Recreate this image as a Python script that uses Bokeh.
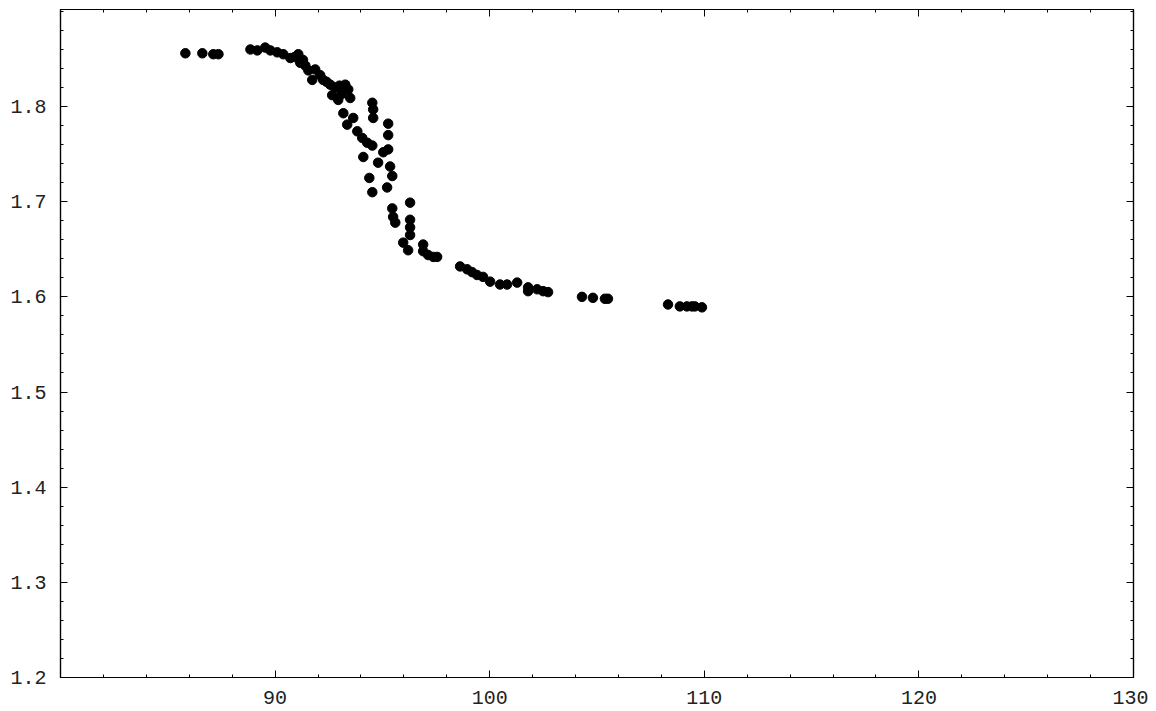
from bokeh.plotting import figure
from bokeh.models import Range1d, FixedTicker, LinearAxis
from bokeh.embed import file_html
from bokeh.resources import INLINE

# data
x_vals = [85.82, 86.61, 87.12, 87.36,
          88.85, 89.17, 89.54, 89.78, 90.10, 90.38, 90.71, 90.90, 91.08, 91.17, 91.30,
          91.41, 91.55, 91.73, 91.87, 92.10, 92.24, 92.40, 92.57, 92.80, 92.66, 92.94,
          93.00, 93.27, 93.41, 93.50, 93.10,
          93.18, 93.36, 93.64, 93.83, 94.06, 94.29, 94.53, 94.11, 94.53, 94.57, 94.57,
          95.04, 94.80, 95.27, 95.27, 95.27, 95.36, 95.46, 95.22, 94.39, 94.53,
          96.29, 95.46, 95.50, 95.60, 96.29, 96.29, 96.29, 95.97, 96.20, 96.90, 96.90,
          97.13, 97.37, 97.55,
          98.62, 98.95, 99.18, 99.41, 99.69, 100.02, 100.48, 100.81, 101.28, 101.79,
          101.79, 102.21, 102.49, 102.72, 104.30, 104.81, 105.37, 105.51,
          108.31, 108.86, 109.19, 109.42, 109.56, 109.89]
y_vals = [1.856, 1.856, 1.855, 1.855,
          1.860, 1.859, 1.862, 1.859, 1.857, 1.855, 1.851, 1.852, 1.855, 1.846, 1.849,
          1.843, 1.838, 1.828, 1.839, 1.833, 1.828, 1.826, 1.823, 1.820, 1.812, 1.807,
          1.822, 1.823, 1.818, 1.809, 1.813,
          1.793, 1.781, 1.788, 1.774, 1.767, 1.762, 1.759, 1.747, 1.804, 1.797, 1.788,
          1.752, 1.741, 1.782, 1.770, 1.755, 1.737, 1.727, 1.715, 1.725, 1.710,
          1.699, 1.693, 1.684, 1.678, 1.681, 1.673, 1.665, 1.657, 1.649, 1.655, 1.648,
          1.644, 1.642, 1.642,
          1.632, 1.629, 1.626, 1.623, 1.621, 1.616, 1.613, 1.613, 1.615, 1.610,
          1.606, 1.608, 1.606, 1.605, 1.600, 1.599, 1.598, 1.598,
          1.592, 1.590, 1.590, 1.590, 1.590, 1.589]

x_major = [90, 100, 110, 120, 130]
x_minor = [82, 84, 86, 88, 90, 92, 94, 96, 98, 100, 102, 104, 106, 108, 110,
           112, 114, 116, 118, 120, 122, 124, 126, 128, 130]
y_major = [1.2, 1.3, 1.4, 1.5, 1.6, 1.7, 1.8]
y_minor = [round(1.2 + 0.02 * i, 2) for i in range(36)]

FONT = "Liberation Mono"

p = figure(frame_width=1073, frame_height=668,
           x_range=Range1d(80, 130), y_range=Range1d(1.2, 1.902),
           output_backend="svg", toolbar_location=None,
           x_axis_location=None, y_axis_location=None,
           min_border_left=60, min_border_top=9, min_border_right=15, min_border_bottom=33)
p.grid.visible = False
p.outline_line_color = "black"
p.outline_line_width = 1.2
p.background_fill_color = "white"
p.border_fill_color = "white"


def make_axis(ticks, minor, show_labels, **kw):
    ax = LinearAxis(ticker=FixedTicker(ticks=ticks, minor_ticks=minor), **kw)
    ax.axis_line_color = "black"
    ax.axis_line_width = 1.2
    ax.major_tick_in = 7
    ax.major_tick_out = 0
    ax.minor_tick_in = 3
    ax.minor_tick_out = 0
    ax.major_tick_line_color = "black"
    ax.minor_tick_line_color = "black"
    ax.major_label_text_font = FONT
    if show_labels:
        ax.major_label_text_font_size = "20px"
        ax.major_label_text_color = "#222222"
    else:
        ax.major_label_text_font_size = "0px"
        ax.major_label_text_color = None
        ax.major_label_standoff = 0
    return ax


bottom = make_axis(x_major, x_minor, True)
bottom.major_label_standoff = 13
left = make_axis(y_major, y_minor, True)
left.major_label_standoff = 14
top = make_axis(x_major, x_minor, False)
right = make_axis(y_major, y_minor, False)

p.add_layout(bottom, "below")
p.add_layout(left, "left")
p.add_layout(top, "above")
p.add_layout(right, "right")

p.scatter(x_vals, y_vals, size=9.5, color="black", marker="circle")

open("out.html", "w").write(file_html(p, INLINE))
